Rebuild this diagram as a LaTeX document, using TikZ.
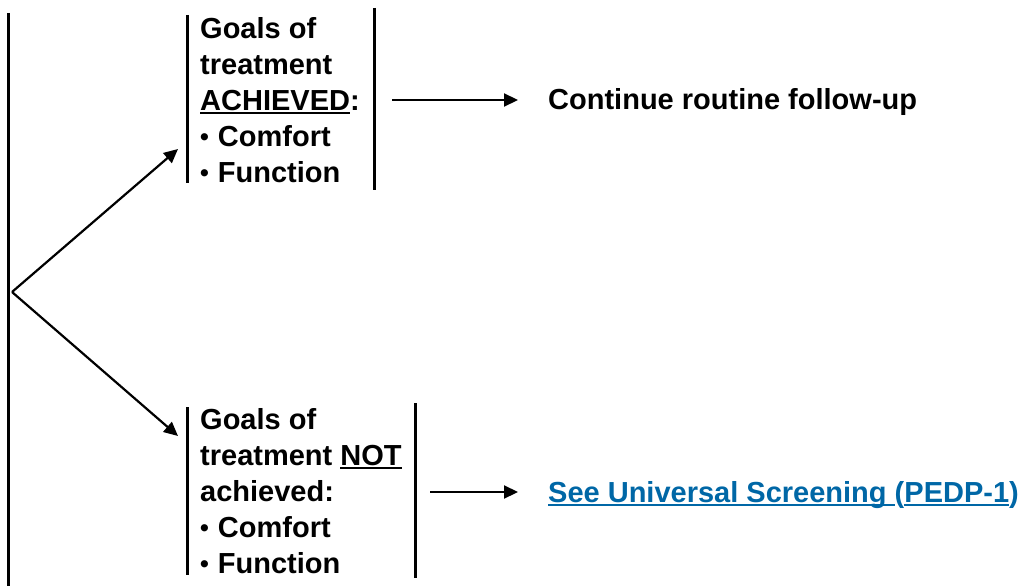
\documentclass[tikz,border=0pt]{standalone}
\usepackage{fontspec}
\setmainfont{Liberation Sans}
\usetikzlibrary{arrows.meta}
\definecolor{linkblue}{RGB}{0,103,166}
% underline a word with a rule that sits just below the baseline
\newcommand\ulword[1]{\leavevmode\setbox0\hbox{#1}\rlap{\rule[-4pt]{\wd0}{1.8pt}}\box0}
% small list bullet followed by its gap
\newcommand\bul{\raisebox{1.2pt}{\fontsize{25}{25}\selectfont\textbullet}\hspace{9pt}}
\begin{document}
\begin{tikzpicture}[x=1pt,y=-1pt,
  txt/.style={inner sep=0pt, font=\fontsize{29}{36}\selectfont\bfseries},
  block/.style={txt, anchor=north west, align=left},
  bar/.style={line width=3pt},
  tip/.style={-{Triangle[length=14pt,width=13pt]}},
  arr/.style={line width=2.2pt, tip}]
\useasboundingbox (0,0) rectangle (1023,586);

% main trunk on the left
\coordinate (trunkTop) at (8,13);
\coordinate (trunkBot) at (8,586);
\draw[bar] (trunkTop) -- (trunkBot);

% fork towards the two outcomes
\coordinate (fork) at (12,292);
\coordinate (upTip) at (178,149);
\coordinate (downTip) at (178,436);
\draw[arr] (fork) -- (upTip);
\draw[arr] (fork) -- (downTip);

% outcome: goals achieved
\coordinate (aL1) at (187,15);  \coordinate (aL2) at (187,183);
\coordinate (aR1) at (374,8);   \coordinate (aR2) at (374,190);
\draw[bar] (aL1) -- (aL2);
\draw[bar] (aR1) -- (aR2);
\node[block] (goalsA) at (200,17)
  {Goals of\\treatment\\\ulword{ACHIEVED}:\\\bul Comfort\\\bul Function};

% outcome: goals not achieved
\coordinate (bL1) at (187,407); \coordinate (bL2) at (187,575);
\coordinate (bR1) at (415,403); \coordinate (bR2) at (415,578);
\draw[bar] (bL1) -- (bL2);
\draw[bar] (bR1) -- (bR2);
\node[block] (goalsB) at (200,408)
  {Goals of\\treatment \ulword{NOT}\\achieved:\\\bul Comfort\\\bul Function};

% follow-up actions
\node[txt, anchor=base west] (cont) at (548,110) {Continue routine follow-up};
\node[txt, anchor=base west, text=linkblue] (screen) at (548,502)
  {\ulword{See Universal Screening\ }(\ulword{PEDP-1})};

\coordinate (aOut) at (392,100);
\coordinate (aEnd) at (518,100);
\coordinate (bOut) at (430,492);
\coordinate (bEnd) at (518,492);
\draw[arr] (aOut) -- (aEnd);
\draw[arr] (bOut) -- (bEnd);
\end{tikzpicture}
\end{document}
